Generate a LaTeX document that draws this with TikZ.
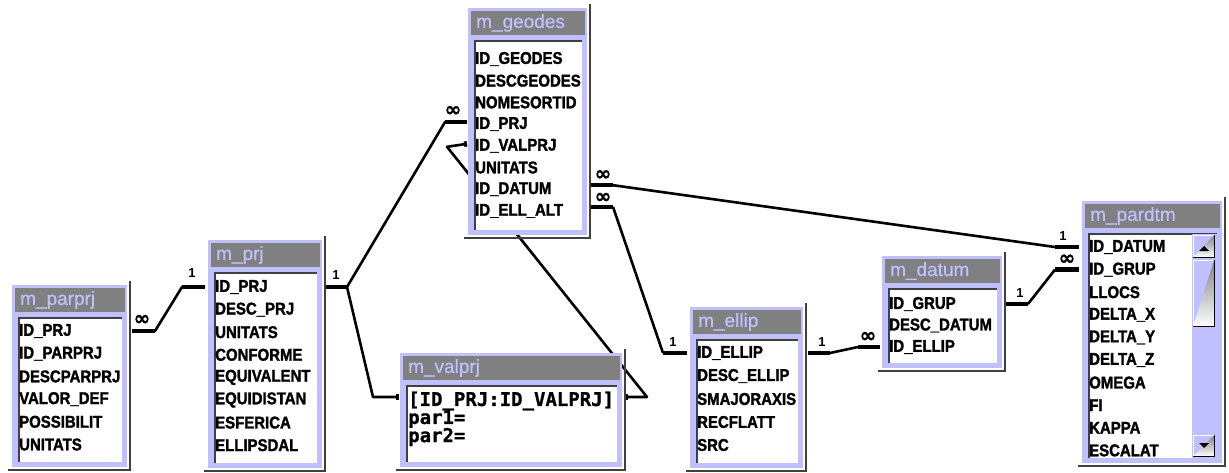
\documentclass[tikz,border=0pt]{standalone}
\usepackage{fontspec}
\setmainfont{Liberation Sans}
\newfontfamily\fieldfont[FakeStretch=0.88,FakeBold=1.6]{Liberation Sans Bold}
\newfontfamily\titlefont[FakeBold=0.6]{Liberation Sans}
\newfontfamily\valfont[FakeBold=0.8]{DejaVu Sans Mono Bold}
\newfontfamily\symfont[FakeBold=1]{DejaVu Sans Bold}
\usetikzlibrary{arrows.meta}
\definecolor{lav}{RGB}{192,192,255}
\definecolor{titlegray}{RGB}{128,128,128}
\definecolor{shade}{RGB}{64,64,64}
\pgfdeclarelayer{back}
\pgfsetlayers{back,main}

\tikzset{
  shadowline/.style={draw=shade, line width=2.5pt},
  inset/.style={draw=shade, line width=2pt},
  frame/.style={rectangle, fill=lav, inner sep=0pt, outer sep=0pt},
  titletxt/.style={text=lav, font=\titlefont\fontsize{19}{19}\selectfont, inner sep=0pt, anchor=west},
  field/.style={font=\fieldfont\fontsize{17}{17}\selectfont, inner sep=0pt, anchor=west},
  valfield/.style={font=\valfont\fontsize{19}{19}\selectfont, inner sep=0pt, anchor=west},
  rel/.style={draw=black, line width=2.6pt, line join=round},
  stub/.style={draw=black, line width=4.5pt},
  lblone/.style={font=\bfseries\fontsize{13}{13}\selectfont, inner sep=0pt},
  lblmany/.style={font=\symfont\fontsize{20}{20}\selectfont, inner sep=0pt},
  nub/.style={-{Square[length=3pt,width=5.5pt]}},
  nubs/.style={{Square[length=3pt,width=5.5pt]}-{Square[length=3pt,width=5.5pt]}},
}

% table window: #1 name, #2 left, #3 top, #4 right, #5 bottom, #6 title
\newcommand\erdtable[6]{%
  \draw[shadowline] (#4+3,#3-4) -- (#4+3,#5+3) -- (#2-4,#5+3);
  \node[frame, minimum width={#4-#2}, minimum height={#5-#3}, anchor=north west] (#1) at (#2,#3) {};
  \fill[titlegray] (#2+3,#3+3) rectangle (#4-2,#3+27);
  \node[titletxt] (#1-title) at (#2+8,#3+15) {#6};
  \fill[white] (#2+6,#3+32) rectangle (#4-5,#5-5);
  \draw[inset] (#2+7,#5-5) -- (#2+7,#3+33) -- (#4-5,#3+33);
}

% scroll bar button
\newcommand\sbbutton[4]{%
  \fill[lav] (#1,#2) rectangle (#3,#4);
  \draw[white, line width=1.2pt] (#1+0.6,#4) -- (#1+0.6,#2+0.6) -- (#3,#2+0.6);
  \draw[shade, line width=1.5pt] (#1,#4-0.75) -- (#3-0.75,#4-0.75) -- (#3-0.75,#2);
}

\begin{document}
\begin{tikzpicture}[x=1pt,y=-1pt]
\useasboundingbox (0,0) rectangle (1229,472);

% ---------------- tables ----------------
\erdtable{parprj}{12}{285}{127}{467}{m\_parprj}
\foreach \f [count=\i] in {ID\_PRJ,ID\_PARPRJ,DESCPARPRJ,VALOR\_DEF,POSSIBILIT,UNITATS}
  \node[field] (parprj-\i) at (19,{331+(\i-1)*22.7}) {\f};

\erdtable{prj}{208}{240}{322}{468}{m\_prj}
\foreach \f [count=\i] in {ID\_PRJ,DESC\_PRJ,UNITATS,CONFORME,EQUIVALENT,EQUIDISTAN,ESFERICA,ELLIPSDAL}
  \node[field] (prj-\i) at (215,{287+(\i-1)*22.6}) {\f};

\erdtable{geodes}{468}{8}{587}{235}{m\_geodes}
\foreach \f [count=\i] in {ID\_GEODES,DESCGEODES,NOMESORTID,ID\_PRJ,ID\_VALPRJ,UNITATS,ID\_DATUM,ID\_ELL\_ALT}
  \node[field] (geodes-\i) at (475,{59+(\i-1)*21.7}) {\f};

\erdtable{valprj}{400}{353}{622}{467}{m\_valprj}
\foreach \f [count=\i] in {[ID\_PRJ:ID\_VALPRJ],par1=,par2=}
  \node[valfield] (valprj-\i) at (408,{401+(\i-1)*18}) {\f};

\erdtable{ellip}{690}{307}{803}{468}{m\_ellip}
\foreach \f [count=\i] in {ID\_ELLIP,DESC\_ELLIP,SMAJORAXIS,RECFLATT,SRC}
  \node[field] (ellip-\i) at (697,{353+(\i-1)*23}) {\f};

\erdtable{datum}{882}{256}{1002}{368}{m\_datum}
\foreach \f [count=\i] in {ID\_GRUP,DESC\_DATUM,ID\_ELLIP}
  \node[field] (datum-\i) at (889,{304+(\i-1)*21.5}) {\f};

\erdtable{pardtm}{1082}{201}{1222}{463}{m\_pardtm}
\foreach \f [count=\i] in {ID\_DATUM,ID\_GRUP,LLOCS,DELTA\_X,DELTA\_Y,DELTA\_Z,OMEGA,FI,KAPPA,ESCALAT}
  \node[field] (pardtm-\i) at (1089,{247+(\i-1)*22.6}) {\f};

% scroll bar of m_pardtm
\fill[lav] (1192,234) rectangle (1217,458);
\sbbutton{1193}{235}{1215}{258}
\sbbutton{1193}{260}{1215}{327}
\sbbutton{1193}{435}{1215}{457}
\fill (1199,251) -- (1209,251) -- (1204,246) -- cycle;
\fill (1199,443) -- (1209,443) -- (1204,448) -- cycle;

% ---------------- relationships ----------------
\begin{pgfonlayer}{back}
  % m_parprj.ID_PRJ  -- m_prj.ID_PRJ
  \draw[rel] ([xshift=5pt]parprj.east |- parprj-1) -- ++(23,0)
    -- ([xshift=-26pt]prj.west |- prj-1) -- ([xshift=-3pt]prj.west |- prj-1);
  \draw[stub] ([xshift=5pt]parprj.east |- parprj-1) -- ++(23,0);
  \draw[stub] ([xshift=-26pt]prj.west |- prj-1) -- ([xshift=-3pt]prj.west |- prj-1);

  % m_prj.ID_PRJ -- m_geodes.ID_PRJ and m_valprj
  \coordinate (prjfork) at ([xshift=25pt]prj.east |- prj-1);
  \draw[stub] ([xshift=3pt]prj.east |- prj-1) -- (prjfork);
  \draw[rel] (prjfork) -- ([xshift=-23pt,yshift=2pt]geodes.west |- geodes-4)
    -- ([xshift=-1pt,yshift=2pt]geodes.west |- geodes-4);
  \draw[stub] ([xshift=-23pt,yshift=2pt]geodes.west |- geodes-4) -- ([xshift=-1pt,yshift=2pt]geodes.west |- geodes-4);
  \draw[rel,nub] (prjfork) -- ([xshift=-27pt,yshift=4pt]valprj.west |- valprj-1)
    -- ([xshift=-1pt,yshift=4pt]valprj.west |- valprj-1);

  % m_geodes.ID_VALPRJ -- m_valprj
  \draw[rel,nubs] ([xshift=-1pt,yshift=2pt]geodes.west |- geodes-5)
    -- ([xshift=-21pt,yshift=-1pt]geodes.west |- geodes-5)
    -- ([xshift=25pt,yshift=4pt]valprj.east |- valprj-1)
    -- ([xshift=3pt,yshift=4pt]valprj.east |- valprj-1);

  % m_geodes.ID_DATUM -- m_pardtm.ID_DATUM
  \draw[stub] ([xshift=3pt,yshift=4pt]geodes.east |- geodes-7) -- ++(23,0);
  \draw[rel] ([xshift=26pt,yshift=4pt]geodes.east |- geodes-7) -- ([xshift=-27pt]pardtm.west |- pardtm-1);
  \draw[stub] ([xshift=-27pt]pardtm.west |- pardtm-1) -- ([xshift=-3pt]pardtm.west |- pardtm-1);

  % m_geodes.ID_ELL_ALT -- m_ellip.ID_ELLIP
  \draw[stub] ([xshift=3pt,yshift=4pt]geodes.east |- geodes-8) -- ++(23,0);
  \draw[rel] ([xshift=26pt,yshift=4pt]geodes.east |- geodes-8) -- ([xshift=-27pt]ellip.west |- ellip-1);
  \draw[stub] ([xshift=-27pt]ellip.west |- ellip-1) -- ([xshift=-3pt]ellip.west |- ellip-1);

  % m_ellip.ID_ELLIP -- m_datum.ID_ELLIP
  \draw[stub] ([xshift=5pt]ellip.east |- ellip-1) -- ++(22,0);
  \draw[rel] ([xshift=27pt]ellip.east |- ellip-1) -- ([xshift=-24pt]datum.west |- datum-3);
  \draw[stub] ([xshift=-24pt]datum.west |- datum-3) -- ([xshift=-2pt]datum.west |- datum-3);

  % m_datum.ID_GRUP -- m_pardtm.ID_GRUP
  \draw[stub] ([xshift=4pt]datum.east |- datum-1) -- ++(22,0);
  \draw[rel] ([xshift=26pt]datum.east |- datum-1) -- ([xshift=-27pt]pardtm.west |- pardtm-2);
  \draw[stub] ([xshift=-27pt]pardtm.west |- pardtm-2) -- ([xshift=-3pt]pardtm.west |- pardtm-2);
\end{pgfonlayer}

% ---------------- cardinality labels ----------------
\node[lblmany] (c1m) at ([xshift=15pt,yshift=11pt]parprj.east |- parprj-1) {∞};
\node[lblone]  (c1o) at ([xshift=-16pt,yshift=14pt]prj.west |- prj-1) {1};
\node[lblone]  (c2o) at ([xshift=14pt,yshift=12pt]prj.east |- prj-1) {1};
\node[lblmany] (c2m) at ([xshift=-15pt,yshift=13pt]geodes.west |- geodes-4) {∞};
\node[lblmany] (c5m) at ([xshift=16pt,yshift=14pt]geodes.east |- geodes-7) {∞};
\node[lblone]  (c5o) at ([xshift=-19pt,yshift=11pt]pardtm.west |- pardtm-1) {1};
\node[lblmany] (c6m) at ([xshift=16pt,yshift=13pt]geodes.east |- geodes-8) {∞};
\node[lblone]  (c6o) at ([xshift=-17pt,yshift=11pt]ellip.west |- ellip-1) {1};
\node[lblone]  (c7o) at ([xshift=19pt,yshift=11pt]ellip.east |- ellip-1) {1};
\node[lblmany] (c7m) at ([xshift=-14pt,yshift=10pt]datum.west |- datum-3) {∞};
\node[lblone]  (c8o) at ([xshift=18pt,yshift=11pt]datum.east |- datum-1) {1};
\node[lblmany] (c8m) at ([xshift=-15pt,yshift=10pt]pardtm.west |- pardtm-2) {∞};
\end{tikzpicture}
\end{document}
